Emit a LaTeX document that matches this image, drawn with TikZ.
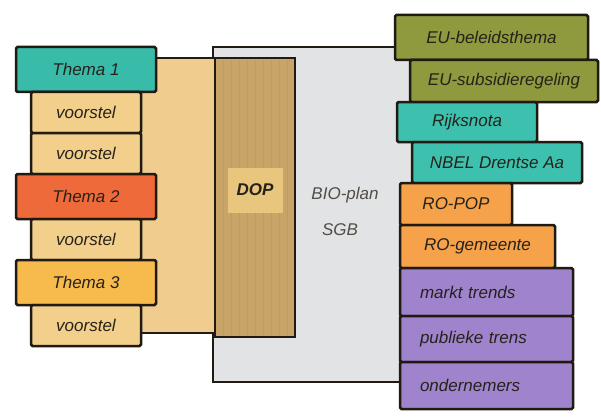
\documentclass[tikz,border=0pt]{standalone}
\usepackage{fontspec}
\setmainfont{Liberation Sans}
\usepackage{tikz}
\usetikzlibrary{positioning}
\definecolor{lijn}{HTML}{201A12}
\definecolor{tekst}{HTML}{26221A}
\definecolor{themateal}{HTML}{38BBA8}
\definecolor{themarood}{HTML}{EF6A3A}
\definecolor{themageel}{HTML}{F7BB4D}
\definecolor{voorstelbeige}{HTML}{F3CF8C}
\definecolor{achtergrond}{HTML}{F0CD8E}
\definecolor{dopbruin}{HTML}{C9A468}
\definecolor{doplicht}{HTML}{E8C67E}
\definecolor{biogrijs}{HTML}{E2E3E5}
\definecolor{euolijf}{HTML}{8E9A3D}
\definecolor{rijkteal}{HTML}{3EC0AE}
\definecolor{rooranje}{HTML}{F5A24B}
\definecolor{marktpaars}{HTML}{9F83CC}

\begin{document}
\begin{tikzpicture}[
    x=1pt, y=-1pt,
    node distance=0pt,
    box/.style={rectangle, draw=lijn, line width=2.5pt, rounded corners=1.5pt, outer sep=0pt, inner sep=0pt, text=tekst, font=\itshape\fontsize{17}{20}\selectfont},
    thema/.style={box, minimum width=140pt, minimum height=45pt},
    voorstel/.style={box, fill=voorstelbeige, minimum width=110pt, minimum height=41pt},
    bron/.style={box, anchor=north west},
    trend/.style={bron, fill=marktpaars, align=left, text width=133pt, inner xsep=20pt, minimum height=46pt}
]
\useasboundingbox (0,0) rectangle (601,417);

\node[fill=biogrijs, minimum width=200pt, minimum height=335pt, outer sep=0pt] (bio) at (313,214.5) {};
\draw[lijn, line width=2.5pt] (bio.north east) -- (bio.north west) -- (bio.south west) -- (bio.south east);
\node[box, rounded corners=0pt, fill=achtergrond, minimum width=75pt, minimum height=275pt] (gebied) at (177.5,195.5) {};
\node[box, rounded corners=0pt, fill=dopbruin, minimum width=80pt, minimum height=279pt] (dop) at (255,197.5) {};
\foreach \i in {1,...,9}
    \draw[dopbruin!80!black, opacity=0.25] (dop.north west) ++(\i*8,2) -- ++(0,275);
\node[fill=doplicht, minimum width=55pt, minimum height=45pt, font=\itshape\bfseries\fontsize{17}{20}\selectfont, text=tekst] (doplabel) at (255,190) {DOP};
\node[font=\itshape\fontsize{17}{20}\selectfont, text=tekst!80] (bioplan) at (345,195) {BIO-plan};
\node[font=\itshape\fontsize{17}{20}\selectfont, text=tekst!80] (sgb) at (340,230) {SGB};

\node[thema, fill=themateal] (thema1) at (86,69.5) {Thema 1};
\node[voorstel, below=of thema1] (voorstel1) {voorstel};
\node[voorstel, below=of voorstel1] (voorstel2) {voorstel};
\node[thema, fill=themarood, below=of voorstel2] (thema2) {Thema 2};
\node[voorstel, below=of thema2] (voorstel3) {voorstel};
\node[thema, fill=themageel, below=of voorstel3] (thema3) {Thema 3};
\node[voorstel, below=of thema3] (voorstel4) {voorstel};

\node[bron, fill=euolijf, minimum width=193pt, minimum height=45pt] (eubeleid) at (395,15) {EU-beleidsthema};
\node[bron, fill=euolijf, minimum width=188pt, minimum height=42pt] (eusubsidie) at (410,60) {EU-subsidieregeling};
\node[bron, fill=rijkteal, minimum width=140pt, minimum height=40pt] (rijksnota) at (397,102) {Rijksnota};
\node[bron, fill=rijkteal, minimum width=170pt, minimum height=41pt] (nbel) at (412,142) {NBEL Drentse Aa};
\node[bron, fill=rooranje, minimum width=112pt, minimum height=42pt] (ropop) at (400,183) {RO-POP};
\node[bron, fill=rooranje, minimum width=155pt, minimum height=43pt] (rogemeente) at (400,225) {RO-gemeente};
\node[trend, minimum height=48pt] (markt) at (400,268) {markt trends};
\node[trend, below=of markt.south west, anchor=north west] (publiek) {publieke trens};
\node[trend, below=of publiek.south west, anchor=north west, minimum height=47pt] (ondernemers) {ondernemers};
\end{tikzpicture}
\end{document}
